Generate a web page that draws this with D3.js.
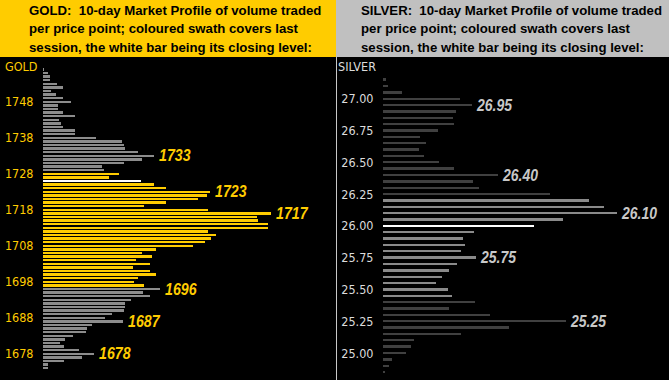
<!DOCTYPE html>
<html><head><meta charset="utf-8">
<script src="https://cdn.jsdelivr.net/npm/d3@7"></script>
<style>
html,body{margin:0;padding:0;background:#000;}
svg{display:block;}
.hdr{font-family:Arial,"Liberation Sans",sans-serif;font-weight:bold;font-size:13.2px;fill:#000;white-space:pre;}
.tick text{font-family:"Liberation Sans Narrow","Arial Narrow","DejaVu Sans Condensed",sans-serif;font-size:12.5px;}
.lbl{font-family:Arial,"Liberation Sans",sans-serif;font-weight:bold;font-style:italic;font-size:16px;}
</style></head>
<body>
<svg id="c" width="669" height="380"></svg>
<script>
// ---------- DATA ----------
const goldPrices = [1757,1756,1755,1754,1753,1752,1751,1750,1749,1748,1747,1746,1745,1744,1743,1742,1741,1740,1739,1738,
  1737,1736,1735,1734,1733,1732,1731,1730,1729,1728,1727,1726,1725,1724,1723,1722,1721,1720,1719,1718,
  1717,1716,1715,1714,1713,1712,1711,1710,1709,1708,1707,1706,1705,1704,1703,1702,1701,1700,1699,1698,
  1697,1696,1695,1694,1693,1692,1691,1690,1689,1688,1687,1686,1685,1684,1683,1682,1681,1680,1679,1678,
  1677,1676,1675,1674];
const goldVolume = [1,5,7,7,14,20,8,13,20,28,15,15,20,32,16,18,20,32,32,53,
  79,81,82,95,111,99,81,59,61,76,66,98,111,123,167,164,155,123,101,165,
  228,214,215,225,225,165,173,168,162,150,113,99,109,93,107,90,107,113,95,91,
  101,117,100,107,88,82,82,81,69,62,80,49,44,43,30,22,17,21,36,51,
  39,21,5,5];
const goldSession = {high:1728, low:1697, close:1726};
const goldTicks = [1748,1738,1728,1718,1708,1698,1688,1678];
const goldLabels = [1733,1723,1717,1696,1687,1678];

const silverPrices = [27.15,27.10,27.05,27.00,26.95,26.90,26.85,26.80,26.75,26.70,26.65,26.60,26.55,26.50,26.45,26.40,
  26.35,26.30,26.25,26.20,26.15,26.10,26.05,26.00,25.95,25.90,25.85,25.80,25.75,25.70,25.65,25.60,
  25.55,25.50,25.45,25.40,25.35,25.30,25.25,25.20,25.15,25.10,25.05,25.00,24.95,24.90,24.85];
const silverVolume = [3,5,19,77,89,73,70,71,55,37,43,36,41,56,71,115,
  90,96,167,206,221,234,180,151,91,80,82,78,93,74,66,59,
  53,65,69,92,66,107,183,126,78,31,28,23,9,6,2];
const silverSession = {high:26.20, low:25.45, close:26.00};
const silverTicks = [27.00,26.75,26.50,26.25,26.00,25.75,25.50,25.25,25.00];
const silverLabels = [26.95,26.40,26.10,25.75,25.25];

const goldTitle = ["GOLD:  10-day Market Profile of volume traded","per price point; coloured swath covers last","session, the white bar being its closing level:"];
const silverTitle = ["SILVER:  10-day Market Profile of volume traded","per price point; coloured swath covers last","session, the white bar being its closing level:"];

// ---------- DRAW ----------
const svg = d3.select("#c");
const YEL = "#ffcc00";

function panel(cfg){
  const g = svg.append("g");
  g.append("rect").attr("x",cfg.x0).attr("y",0).attr("width",cfg.w).attr("height",57).attr("fill",cfg.hdrFill);
  cfg.title.forEach((t,i)=>{
    g.append("text").attr("class","hdr").attr("x",cfg.tx).attr("y",15+i*18.3).text(t);
  });
  const y = d3.scaleLinear().domain(cfg.yDom).range(cfg.yRange);
  const x = d3.scaleLinear().domain([0,100]).range([cfg.barX, cfg.barX+100]);
  const data = cfg.prices.map((p,i)=>({p, v:cfg.vol[i]}));
  const eps = 1e-6;
  const color = d => Math.abs(d.p-cfg.session.close)<eps ? "#ffffff" :
      (d.p <= cfg.session.high+eps && d.p >= cfg.session.low-eps) ? cfg.swath : cfg.base;
  g.append("g").selectAll("rect").data(data).join("rect")
    .attr("x", x(0)).attr("y", d=>y(d.p)-1.2)
    .attr("width", d=>x(d.v)-x(0)).attr("height", 2.4)
    .attr("fill", color).attr("shape-rendering","crispEdges");
  const ax = d3.axisLeft(y).tickValues(cfg.ticks).tickSize(0).tickPadding(0).tickFormat(cfg.fmt);
  const axg = g.append("g").attr("transform",`translate(${cfg.axX},0)`).call(ax);
  axg.select(".domain").remove();
  axg.selectAll("text").attr("fill",cfg.tickFill);
  g.append("text").attr("x",cfg.nameX).attr("y",70.5).attr("fill",cfg.tickFill)
    .style("font-family",'"Liberation Sans Narrow","Arial Narrow","DejaVu Sans Condensed",sans-serif')
    .style("font-size","12.5px").text(cfg.name);
  const lm = new Map(data.map(d=>[cfg.fmt(d.p), d]));
  g.append("g").selectAll("text").data(cfg.labels).join("text").attr("class","lbl")
    .attr("x", p=>x(lm.get(cfg.fmt(p)).v)+5).attr("y", p=>y(p)).attr("dy","0.36em")
    .attr("textLength", cfg.lblLen).attr("lengthAdjust","spacingAndGlyphs")
    .attr("fill", cfg.lblFill).text(p=>cfg.fmt(p));
  return g;
}

panel({x0:0,w:336,hdrFill:YEL,tx:29,title:goldTitle,yDom:[1748,1678],yRange:[101.7,353.7],
  barX:43,prices:goldPrices,vol:goldVolume,session:goldSession,swath:YEL,base:"#8c8c8c",
  ticks:goldTicks,fmt:d3.format("d"),axX:33.5,tickFill:YEL,name:"GOLD",nameX:5,labels:goldLabels,lblFill:YEL,lblLen:31.5});

panel({x0:336,w:333,hdrFill:"#c0c0c0",tx:361,title:silverTitle,yDom:[27,25],yRange:[98.7,353],
  barX:383,prices:silverPrices,vol:silverVolume,session:silverSession,swath:"#8a8a8a",base:"#404040",
  ticks:silverTicks,fmt:d3.format(".2f"),axX:373.5,tickFill:"#dcdcdc",name:"SILVER",nameX:338,labels:silverLabels,lblFill:"#c8c8c8",lblLen:35});

svg.append("line").attr("x1",336).attr("x2",336).attr("y1",57).attr("y2",380)
  .attr("stroke","#c8c8c8").attr("stroke-width",1).attr("shape-rendering","crispEdges");
</script>
</body></html>
